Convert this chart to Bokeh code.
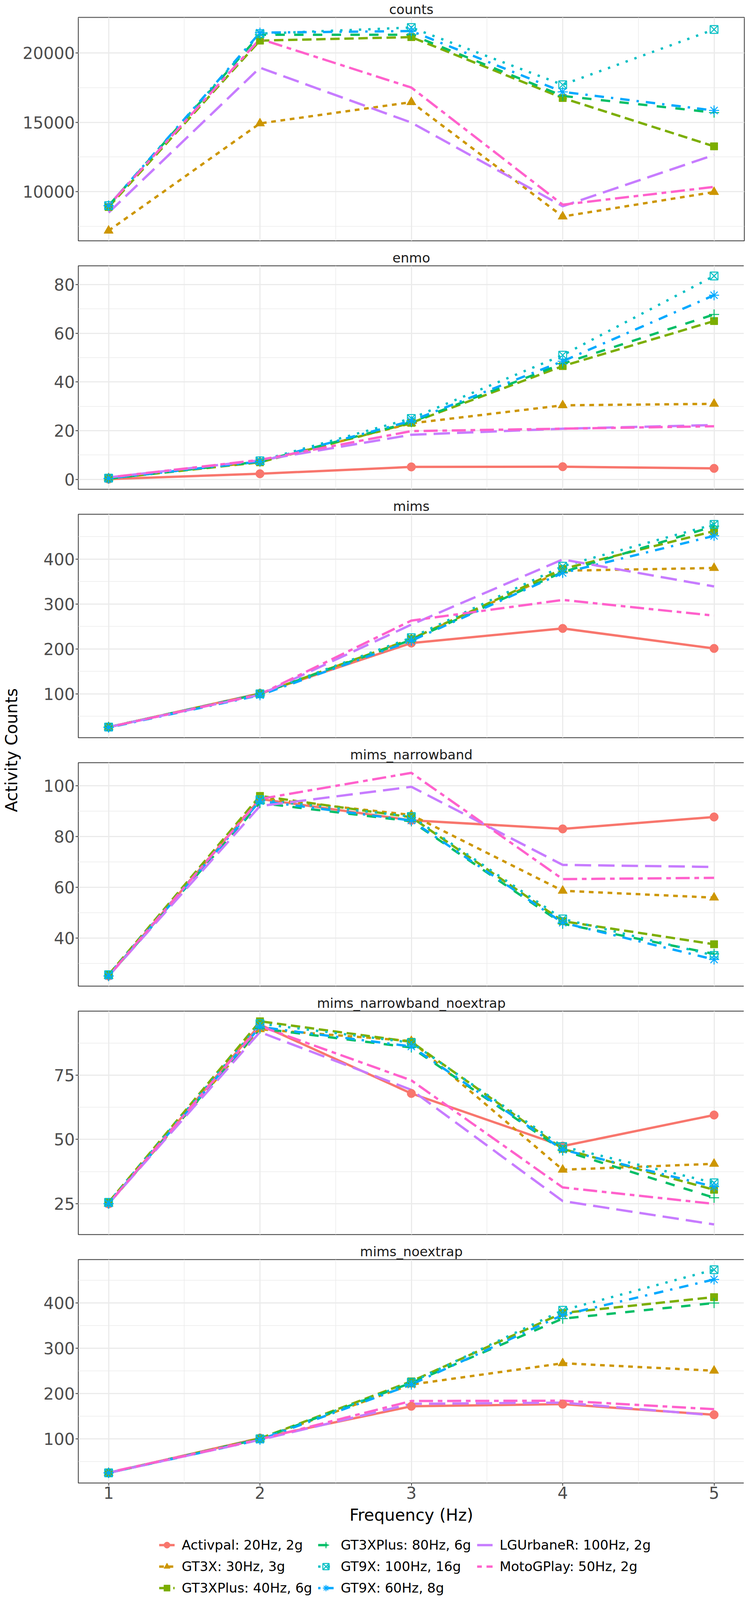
import math
from bokeh.plotting import figure
from bokeh.layouts import column, row
from bokeh.models import FixedTicker, Range1d, Legend, LegendItem, Label
from bokeh.embed import file_html
from bokeh.resources import INLINE

nan = float("nan")

freq = [1, 2, 3, 4, 5]
freq_minor = [1.5, 2.5, 3.5, 4.5]

devices = ["Activpal: 20Hz, 2g", "GT3X: 30Hz, 3g", "GT3XPlus: 40Hz, 6g",
           "GT3XPlus: 80Hz, 6g", "GT9X: 100Hz, 16g", "GT9X: 60Hz, 8g",
           "LGUrbaneR: 100Hz, 2g", "MotoGPlay: 50Hz, 2g"]
colors = ["#F8766D", "#CD9600", "#7CAE00", "#00BE67",
          "#00BFC4", "#00A9FF", "#C77CFF", "#FF61CC"]
markers = ["circle", "triangle", "square", "cross", "square_x", "asterisk", None, None]
dashes = ["solid", "12 12", "24 12", "24 24", "6 18", "6 18 24 18", "42 18", "12 12 36 12"]

metrics = ["counts", "enmo", "mims", "mims_narrowband",
           "mims_narrowband_noextrap", "mims_noextrap"]

# one row per device, same order as devices
counts = [
    [nan, nan, nan, nan, nan],
    [7200, 14920, 16450, 8220, 9980],
    [8900, 20880, 21130, 16750, 13270],
    [9000, 21300, 21300, 16900, 15700],
    [9000, 21380, 21820, 17700, 21680],
    [9000, 21450, 21570, 17190, 15850],
    [8500, 18930, 14980, 8960, 12650],
    [9010, 21000, 17500, 9070, 10350],
]
enmo = [
    [0.1, 2.3, 5.1, 5.2, 4.5],
    [0.5, 7.2, 23.0, 30.4, 31.0],
    [0.3, 7.0, 23.2, 46.5, 65.0],
    [0.3, 7.3, 23.5, 47.5, 67.7],
    [0.5, 7.6, 25.0, 51.0, 83.5],
    [0.4, 7.3, 24.0, 48.5, 75.6],
    [0.8, 7.8, 18.3, 20.8, 22.3],
    [0.8, 8.0, 19.8, 20.8, 21.8],
]
mims = [
    [25.8, 101, 213, 245.5, 201],
    [26, 100, 222, 374, 380],
    [26, 100, 222, 378, 462],
    [26, 100, 220, 371, 473],
    [26, 100, 225, 384, 477],
    [25, 97, 218, 369, 451.5],
    [26, 98, 254, 399, 339],
    [26, 99, 263, 309, 274],
]
mims_narrowband = [
    [25.0, 94.8, 86.4, 83.0, 87.7],
    [25.0, 95.1, 88.5, 58.6, 55.9],
    [25.5, 96.0, 87.6, 46.6, 37.5],
    [25.0, 93.2, 86.0, 45.6, 33.7],
    [25.5, 94.5, 87.9, 47.5, 33.1],
    [25.0, 94.0, 86.3, 46.0, 31.5],
    [25.0, 92.0, 99.6, 68.8, 68.0],
    [25.0, 94.8, 105.1, 63.2, 63.7],
]
mims_narrowband_noextrap = [
    [24.9, 94.7, 67.9, 47.4, 59.5],
    [25.0, 92.9, 88.3, 38.2, 40.5],
    [25.5, 96.0, 88.0, 46.3, 30.4],
    [25.0, 93.2, 85.8, 45.7, 27.3],
    [25.5, 95.1, 87.7, 47.2, 33.1],
    [25.0, 93.8, 86.2, 46.0, 31.6],
    [25.0, 91.8, 69.3, 26.0, 16.9],
    [25.0, 94.1, 73.0, 31.3, 24.9],
]
mims_noextrap = [
    [25.1, 101.7, 172, 176.7, 153.3],
    [25, 100, 220, 267, 250.5],
    [25, 101, 227, 378, 413],
    [25, 100, 223.7, 365.5, 400],
    [25, 100, 225, 384, 473.5],
    [25, 98, 220, 373.5, 452],
    [25, 98, 177.4, 180, 152],
    [26, 99, 183.6, 184.3, 165.5],
]

counts_ticks = [10000, 15000, 20000]
counts_minor = [7500, 12500, 17500, 22500]
enmo_ticks = [0, 20, 40, 60, 80]
enmo_minor = [10, 30, 50, 70]
mims_ticks = [100, 200, 300, 400]
mims_minor = [50, 150, 250, 350, 450]
narrow_ticks = [40, 60, 80, 100]
narrow_minor = [30, 50, 70, 90]
noextrap_ticks = [25, 50, 75]
noextrap_minor = [37.5, 62.5, 87.5]

panels = [
    (counts, counts_ticks, counts_minor),
    (enmo, enmo_ticks, enmo_minor),
    (mims, mims_ticks, mims_minor),
    (mims_narrowband, narrow_ticks, narrow_minor),
    (mims_narrowband_noextrap, noextrap_ticks, noextrap_minor),
    (mims_noextrap, mims_ticks, mims_minor),
]

FONT = "DejaVu Sans"
GRID = "#EBEBEB"
FRAME_W = 1705
FRAME_H = 572
TOP = 44
BOTTOM = 20
LEFT = 143
RIGHT = 2


def add_points(p, i, xs, ys):
    m = markers[i]
    kw = dict(marker=m, line_color=colors[i])
    if m == "circle":
        kw.update(size=22, fill_color=colors[i])
    elif m == "triangle":
        kw.update(size=24, fill_color=colors[i])
    elif m == "square":
        kw.update(size=19, fill_color=colors[i])
    elif m == "square_x":
        kw.update(size=20, fill_color=None, line_width=2.5)
    else:
        kw.update(size=26, fill_color=None, line_width=2.5)
    return p.scatter(xs, ys, **kw)


def make_panel(name, values, ticks, minor, last=False):
    flat = [v for s in values for v in s if not math.isnan(v)]
    lo, hi = min(flat), max(flat)
    pad = (hi - lo) * 0.05
    p = figure(frame_width=FRAME_W, frame_height=FRAME_H,
               x_range=Range1d(0.8, 5.2), y_range=Range1d(lo - pad, hi + pad),
               output_backend="svg", toolbar_location=None, title=name,
               min_border_left=LEFT, min_border_right=RIGHT,
               min_border_top=TOP, min_border_bottom=90 if last else BOTTOM)
    p.title.align = "center"
    p.title.text_font = FONT
    p.title.text_font_size = "34px"
    p.title.text_font_style = "normal"
    p.title.text_color = "#1A1A1A"
    p.title.standoff = 1

    p.outline_line_color = "#333333"
    p.outline_line_width = 2
    p.background_fill_color = "white"

    p.xaxis.ticker = FixedTicker(ticks=freq, minor_ticks=freq_minor)
    p.yaxis.ticker = FixedTicker(ticks=ticks, minor_ticks=minor)
    p.xgrid.ticker = FixedTicker(ticks=freq, minor_ticks=freq_minor)
    p.ygrid.ticker = FixedTicker(ticks=ticks, minor_ticks=minor)
    for g in (p.xgrid, p.ygrid):
        g.grid_line_color = GRID
        g.grid_line_width = 3
        g.minor_grid_line_color = GRID
        g.minor_grid_line_width = 1.5

    for ax in (p.xaxis, p.yaxis):
        ax.axis_line_color = None
        ax.major_tick_line_color = "#333333"
        ax.major_tick_line_width = 2
        ax.major_tick_out = 7
        ax.major_tick_in = 0
        ax.minor_tick_line_color = None
        ax.major_label_text_font = FONT
        ax.major_label_text_font_size = "42px"
        ax.major_label_text_color = "#4D4D4D"
        ax.major_label_standoff = 2

    if last:
        p.xaxis.axis_label = "Frequency (Hz)"
        p.xaxis.axis_label_text_font = FONT
        p.xaxis.axis_label_text_font_size = "42px"
        p.xaxis.axis_label_text_font_style = "normal"
        p.xaxis.axis_label_text_color = "black"
        p.xaxis.axis_label_standoff = 14
    else:
        p.xaxis.visible = False

    lines = []
    for i, dev in enumerate(devices):
        ys = values[i]
        if all(math.isnan(v) for v in ys):
            lines.append(None)
            continue
        lines.append(p.line(freq, ys, line_color=colors[i], line_width=6,
                            line_dash=dashes[i], line_join="round"))
    # points drawn after all lines
    for i, dev in enumerate(devices):
        if markers[i] is not None and lines[i] is not None:
            add_points(p, i, freq, values[i])
    return p


figs = []
for k, (vals, tks, mnr) in enumerate(panels):
    figs.append(make_panel(metrics[k], vals, tks, mnr, last=(k == len(panels) - 1)))

# legend strip under the panels; its renderers sit outside the visible range,
# they only provide the keys
LEG_H = 182
leg = figure(frame_width=FRAME_W, height=LEG_H, x_range=Range1d(10, 11), y_range=Range1d(0, 1),
             output_backend="svg", toolbar_location=None,
             x_axis_location=None, y_axis_location=None,
             min_border_left=LEFT, min_border_right=RIGHT,
             min_border_top=0, min_border_bottom=0, outline_line_color=None)
leg.grid.visible = False
items = []
for i, dev in enumerate(devices):
    ys = mims_noextrap[i]
    rs = [leg.line(freq, ys, line_color=colors[i], line_width=6, line_dash=dashes[i])]
    if markers[i] is not None:
        rs.append(add_points(leg, i, freq, ys))
    items.append(LegendItem(label=dev, renderers=rs))
legend = Legend(items=items, orientation="vertical", nrows=3,
                location=(305, LEG_H - 30 - 150), border_line_color=None,
                background_fill_alpha=0,
                label_text_font=FONT, label_text_font_size="34px",
                label_text_color="black",
                glyph_width=40, glyph_height=40, label_height=40,
                spacing=15, label_standoff=18, padding=0, margin=0)
leg.add_layout(legend, "center")

# shared y-axis title, centred on the stack of panels
lab_w = 54
lab_h = 3990
panels_mid = TOP + (5 * (TOP + FRAME_H + BOTTOM) + FRAME_H) / 2
lab = figure(width=lab_w, height=lab_h, x_range=Range1d(0, lab_w), y_range=Range1d(0, lab_h),
             output_backend="svg", toolbar_location=None,
             x_axis_location=None, y_axis_location=None,
             min_border=0, outline_line_color=None)
lab.grid.visible = False
lab.add_layout(Label(x=4, y=lab_h - panels_mid, text="Activity Counts",
                     angle=math.pi / 2, text_align="center", text_baseline="top",
                     text_font=FONT, text_font_size="42px", text_color="black"))

layout = row(lab, column(*figs, leg))
open("out.html", "w").write(file_html(layout, INLINE))
